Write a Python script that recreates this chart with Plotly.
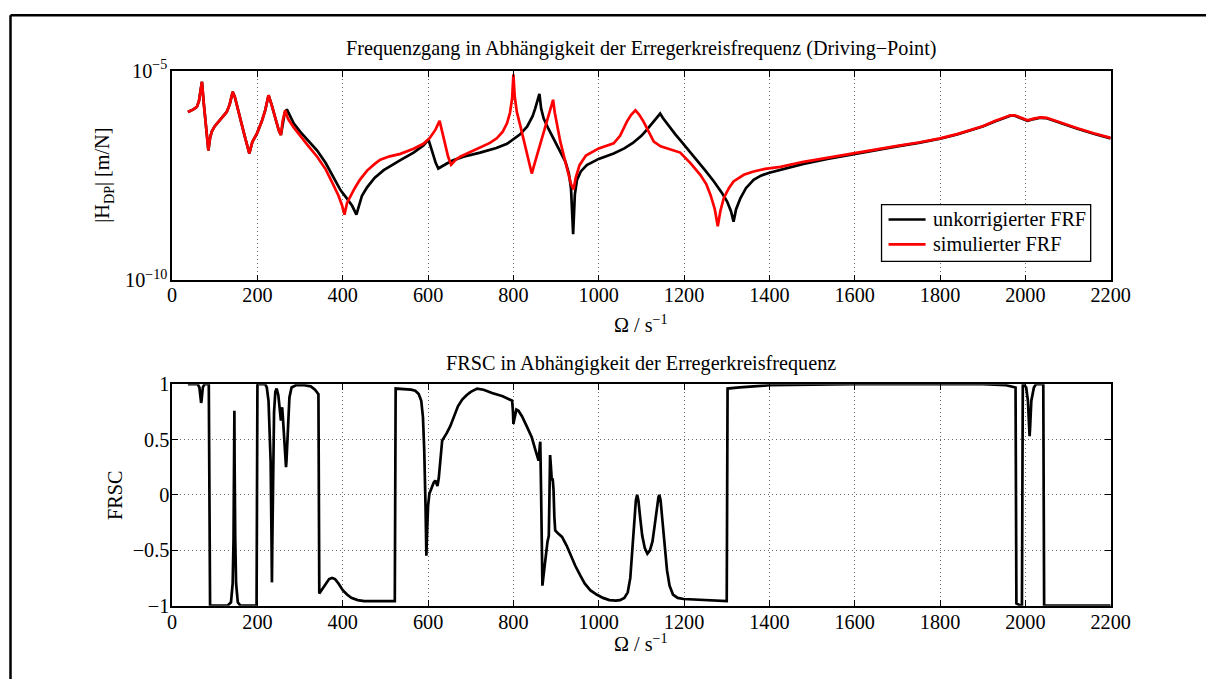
import plotly.graph_objects as go

# ---- Frequenzgang (Driving-Point), |H_DP| read as decade exponents log10(m/N) ----
omega_unkorr = [37, 50, 58, 63, 67, 70, 74, 79, 85, 89, 93, 100, 109, 118, 128, 135, 142, 147,
                153, 160, 170, 181, 188, 199, 210, 218, 226, 233, 242, 250, 255, 260, 264, 269,
                276, 285, 300, 320, 340, 360, 378, 395, 410, 422, 432, 438, 445, 457, 475, 496,
                515, 535, 566, 589, 601, 606, 612, 618, 624, 635, 644, 660, 683, 722, 760, 785,
                800, 815, 832, 845, 851, 856, 861, 865, 871, 882, 894, 908, 922, 930, 935, 940,
                944, 949, 958, 972, 1000, 1035, 1060, 1080, 1100, 1113, 1125, 1135, 1144, 1150,
                1158, 1168, 1180, 1191, 1210, 1230, 1250, 1270, 1288, 1301, 1310, 1316, 1322,
                1332, 1345, 1363, 1380, 1400, 1426, 1480, 1536, 1600, 1650, 1700, 1750, 1800,
                1840, 1870, 1900, 1930, 1950, 1965, 1975, 1990, 2005, 2020, 2035, 2050, 2070,
                2095, 2122, 2160, 2200]
H_unkorr_exp = [-5.98, -5.92, -5.86, -5.72, -5.45, -5.26, -5.75, -6.35, -6.90, -6.60, -6.45, -6.32,
                -6.21, -6.10, -5.98, -5.80, -5.50, -5.62, -5.88, -6.14, -6.55, -6.97, -6.70, -6.49,
                -6.21, -5.95, -5.58, -5.80, -6.14, -6.42, -6.53, -6.25, -6.00, -5.92,
                -6.08, -6.25, -6.45, -6.68, -6.90, -7.20, -7.55, -7.85, -8.05, -8.22, -8.43, -8.20,
                -7.98, -7.78, -7.55, -7.37, -7.25, -7.13, -6.95, -6.78, -6.64, -6.80, -7.00, -7.20,
                -7.33, -7.26, -7.21, -7.13, -7.05, -6.95, -6.84, -6.74, -6.64, -6.52, -6.33, -6.08,
                -5.90, -5.72, -5.55, -5.90, -6.14, -6.38, -6.61, -6.88, -7.17, -7.45, -7.80, -8.90,
                -7.95, -7.60, -7.40, -7.25, -7.10, -6.97, -6.85, -6.72, -6.55, -6.40, -6.25, -6.13,
                -6.02, -6.12, -6.23, -6.36, -6.52, -6.65, -6.88, -7.12, -7.38, -7.64, -7.90, -8.12,
                -8.35, -8.60, -8.30, -8.04, -7.80, -7.60, -7.50, -7.43, -7.36, -7.22, -7.10, -6.98,
                -6.89, -6.80, -6.72, -6.62, -6.52, -6.43, -6.33, -6.20, -6.12, -6.07, -6.07, -6.13,
                -6.19, -6.15, -6.12, -6.13, -6.20, -6.30, -6.38, -6.50, -6.61]

omega_sim = [37, 50, 58, 63, 67, 70, 74, 79, 85, 89, 93, 100, 109, 118, 128, 135, 142, 147,
             153, 160, 170, 181, 188, 199, 210, 218, 226, 233, 242, 250, 255, 259, 265, 272,
             285, 300, 320, 340, 360, 378, 390, 398, 404, 410, 418, 428, 440, 457, 475, 488,
             510, 535, 566, 589, 604, 612, 617, 622, 627, 633, 640, 647, 654, 665, 675, 700,
             722, 745, 761, 775, 785, 792, 797, 800, 803, 808, 816, 824, 833, 843, 850, 860,
             870, 878, 886, 893, 897, 903, 910, 920, 929, 935, 941, 946, 955, 970, 1000, 1035,
             1050, 1066, 1076, 1086, 1095, 1105, 1117, 1129, 1145, 1160, 1175, 1191, 1215, 1238,
             1252, 1262, 1272, 1279, 1285, 1293, 1305, 1316, 1340, 1363, 1390, 1426, 1480, 1536,
             1600, 1650, 1700, 1750, 1800, 1840, 1870, 1900, 1930, 1950, 1965, 1975, 1990, 2005,
             2020, 2035, 2050, 2070, 2095, 2122, 2160, 2200]
H_sim_exp = [-5.98, -5.92, -5.86, -5.72, -5.45, -5.26, -5.75, -6.35, -6.90, -6.60, -6.45, -6.32,
             -6.21, -6.10, -5.98, -5.80, -5.50, -5.62, -5.88, -6.14, -6.55, -6.97, -6.70, -6.49,
             -6.21, -5.95, -5.58, -5.80, -6.14, -6.42, -6.53, -6.20, -5.94, -6.15,
             -6.35, -6.55, -6.80, -7.05, -7.35, -7.72, -7.98, -8.20, -8.43, -8.15, -7.98, -7.80,
             -7.60, -7.38, -7.22, -7.12, -7.04, -6.98, -6.86, -6.74, -6.60, -6.50, -6.41, -6.30,
             -6.19, -6.45, -6.77, -7.05, -7.24, -7.12, -7.05, -6.93, -6.83, -6.72, -6.61, -6.45,
             -6.25, -6.00, -5.66, -5.08, -5.60, -5.98, -6.30, -6.65, -7.00, -7.45, -7.20, -6.85,
             -6.52, -6.25, -5.95, -5.69, -6.00, -6.35, -6.69, -7.10, -7.48, -7.70, -7.83, -7.55,
             -7.25, -7.02, -6.85, -6.73, -6.55, -6.21, -6.05, -5.94, -6.05, -6.21, -6.45, -6.69,
             -6.80, -6.85, -6.90, -6.95, -7.20, -7.48, -7.70, -7.96, -8.30, -8.71, -8.35, -8.04,
             -7.80, -7.64, -7.48, -7.40, -7.34, -7.29, -7.17, -7.07, -6.96, -6.88, -6.79, -6.71,
             -6.61, -6.51, -6.42, -6.32, -6.19, -6.11, -6.06, -6.06, -6.12, -6.18, -6.14, -6.11,
             -6.12, -6.19, -6.29, -6.37, -6.49, -6.60]

# ---- FRSC ----
omega_frsc = [37, 60, 64, 67, 68, 69, 72, 76, 86, 89, 130, 138, 142, 144, 145.5, 146, 146.5,
              148, 150, 154, 160, 198, 200, 218, 222, 226, 229, 231, 233, 234, 235, 237, 239,
              242, 245, 249, 253, 255, 257, 258, 260, 263, 266, 267, 268, 271, 275, 280, 290,
              310, 325, 335, 343, 345, 352, 360, 368, 375, 382, 390, 400, 410, 420, 435, 450,
              522, 524, 560, 570, 578, 584, 588, 591, 594, 596, 598, 600, 603, 608, 613, 617,
              620, 622, 625, 628, 633, 644, 652, 660, 670, 680, 690, 700, 715, 730, 750, 775,
              797, 799, 800, 803, 807, 812, 820, 830, 843, 852, 859, 862, 863, 865, 867, 868,
              870, 875, 880, 883, 885, 886, 888, 890, 892, 894, 896, 898, 905, 914, 925, 935,
              945, 957, 967, 980, 995, 1010, 1025, 1040, 1050, 1060, 1068, 1074, 1079, 1083,
              1087, 1090, 1093, 1097, 1102, 1108, 1114, 1120, 1126, 1131, 1136, 1140, 1142,
              1145, 1149, 1154, 1160, 1166, 1174, 1185, 1199, 1300, 1302, 1330, 1360, 1400,
              1500, 1600, 1900, 1934, 1955, 1977, 1979, 1989, 1992, 1994, 1996, 2002, 2006,
              2009, 2010, 2011, 2014, 2020, 2025, 2042, 2044, 2200]
frsc = [1.0, 1.0, 0.97, 0.85, 0.83, 0.85, 0.97, 1.0, 1.0, -1.0, -1.0, -0.97, -0.8, -0.4, 0.3,
        0.76, 0.3, -0.4, -0.8, -0.97, -1.0, -1.0, 1.0, 1.0, 0.97, 0.85, 0.6, 0.3, -0.4, -0.79,
        -0.4, 0.3, 0.75, 0.93, 0.96, 0.9, 0.7, 0.67, 0.78, 0.79, 0.68, 0.45, 0.27, 0.25, 0.3,
        0.6, 0.88, 0.97, 0.99, 0.99, 0.98, 0.95, 0.91, -0.89, -0.85, -0.8, -0.76, -0.75, -0.76,
        -0.8, -0.86, -0.9, -0.93, -0.95, -0.96, -0.96, 0.96, 0.95, 0.94, 0.91, 0.85, 0.7, 0.4,
        -0.1, -0.55, -0.3, -0.1, 0.01, 0.07, 0.11, 0.13, 0.1, 0.08, 0.15, 0.3, 0.49, 0.56,
        0.62, 0.7, 0.8, 0.86, 0.9, 0.93, 0.96, 0.95, 0.92, 0.89, 0.85, 0.75, 0.64, 0.7, 0.77,
        0.76, 0.71, 0.63, 0.52, 0.4, 0.31, 0.45, 0.48, 0.0, -0.6, -0.82, -0.75, -0.55, -0.42,
        -0.37, 0.0, 0.36, 0.25, 0.13, 0.15, 0.05, -0.2, -0.32, -0.35, -0.38, -0.46, -0.55,
        -0.64, -0.73, -0.8, -0.86, -0.9, -0.93, -0.95, -0.955, -0.95, -0.93, -0.88, -0.75,
        -0.5, -0.25, -0.05, 0.0, -0.05, -0.2, -0.37, -0.48, -0.53, -0.5, -0.42, -0.28, -0.12,
        -0.02, 0.0, -0.05, -0.22, -0.45, -0.68, -0.82, -0.9, -0.93, -0.94, -0.96, 0.96, 0.97,
        0.98, 0.99, 0.995, 1.0, 1.0, 0.995, 0.99, 0.97, -0.98, -1.0, -1.0, 1.0, 1.0, 0.97,
        0.85, 0.6, 0.53, 0.6, 0.85, 0.97, 1.0, 1.0, -1.0, -1.0]

series_names = ["unkorrigierter FRF", "simulierter FRF"]
series_colors = ["black", "#ff0000"]

x_ticks = list(range(0, 2201, 200))
frsc_ticks = [-1, -0.5, 0, 0.5, 1]
frsc_ticktext = ["\u22121", "\u22120.5", "0", "0.5", "1"]
H_ticks = [1e-10, 1e-5]
H_ticktext = ["10<sup>\u221210</sup>", "10<sup>\u22125</sup>"]

W, H = 1226, 690
FONT = "Liberation Serif"
FS = 20.2
LW = 2.7

# placement of the figure inside the browser page (scale and offset per axis)
PAGE_SX, PAGE_OX = 0.979, 5.0
PAGE_SY, PAGE_OY = 0.966, 12.0


def px_x(p):
    return (p - PAGE_OX) / PAGE_SX / W


def px_y(p):
    return 1 - (p - PAGE_OY) / PAGE_SY / H


fig = go.Figure()
fig.add_trace(go.Scatter(x=omega_unkorr, y=[10.0 ** e for e in H_unkorr_exp], mode="lines",
                         name=series_names[0], line=dict(color=series_colors[0], width=LW),
                         xaxis="x", yaxis="y", showlegend=False))
fig.add_trace(go.Scatter(x=omega_sim, y=[10.0 ** e for e in H_sim_exp], mode="lines",
                         name=series_names[1], line=dict(color=series_colors[1], width=LW),
                         xaxis="x", yaxis="y", showlegend=False))
fig.add_trace(go.Scatter(x=omega_frsc, y=frsc, mode="lines", name="FRSC", showlegend=False,
                         line=dict(color="black", width=LW), xaxis="x2", yaxis="y2"))

axis_common = dict(showline=True, linecolor="black", linewidth=1.5, mirror="allticks",
                   ticks="inside", ticklen=6, tickcolor="black", zeroline=False,
                   tickfont=dict(family=FONT, size=FS, color="black"))
grid = dict(showgrid=True, gridcolor="rgba(0,0,0,0.6)", gridwidth=1, griddash="1px,3px")

x_dom = [px_x(172), px_x(1110)]
fig.update_layout(
    width=W, height=H, margin=dict(l=0, r=0, t=0, b=0),
    paper_bgcolor="white", plot_bgcolor="white",
    font=dict(family=FONT, size=FS, color="black"),
    xaxis=dict(domain=x_dom, anchor="y", range=[0, 2200], tickvals=x_ticks,
               ticklabelstandoff=-4, **axis_common, **grid),
    yaxis=dict(domain=[px_y(279), px_y(69)], anchor="x", type="log", range=[-10, -5],
               tickvals=H_ticks, ticktext=H_ticktext, showgrid=False,
               ticklabelstandoff=-1, **axis_common),
    xaxis2=dict(domain=x_dom, anchor="y2", range=[0, 2200], tickvals=x_ticks,
                ticklabelstandoff=-3, **axis_common, **grid),
    yaxis2=dict(domain=[px_y(605), px_y(383)], anchor="x2", range=[-1, 1],
                tickvals=frsc_ticks, ticktext=frsc_ticktext,
                ticklabelstandoff=-3, **axis_common, **grid),
    showlegend=False,
)

annotations = [
    ("Frequenzgang in Abhängigkeit der Erregerkreisfrequenz (Driving\u2212Point)", 641, 47, 0, "center"),
    ("FRSC in Abhängigkeit der Erregerkreisfrequenz", 641, 362, 0, "center"),
    ("\u03a9 / s<sup>\u22121</sup>", 641, 322, 0, "center"),
    ("\u03a9 / s<sup>\u22121</sup>", 641, 642, 0, "center"),
    ("|H<sub>DP</sub>| [m/N]", 104, 174, -90, "center"),
    ("FRSC", 115, 495, -90, "center"),
]

shapes = []

# legend box of the upper panel
leg_x0, leg_x1, leg_y0, leg_y1 = 881, 1090, 203, 260
leg_rows = [218, 243]
shapes.append(dict(type="rect", xref="paper", yref="paper", layer="above",
                   x0=px_x(leg_x0), x1=px_x(leg_x1), y0=px_y(leg_y1), y1=px_y(leg_y0),
                   fillcolor="white", line=dict(color="black", width=1.3)))
for name, color, row in zip(series_names, series_colors, leg_rows):
    shapes.append(dict(type="line", xref="paper", yref="paper", layer="above",
                       x0=px_x(888), x1=px_x(925), y0=px_y(row), y1=px_y(row),
                       line=dict(color=color, width=LW)))
    annotations.append((name, 930, row, 0, "left"))

# outer frame (left and top edges)
shapes.append(dict(type="line", xref="paper", yref="paper", x0=px_x(10.5), x1=px_x(10.5),
                   y0=0, y1=1 - 1.2 / H, line=dict(color="black", width=2.5)))
shapes.append(dict(type="line", xref="paper", yref="paper", x0=px_x(10.5), x1=1,
                   y0=1 - 1.2 / H, y1=1 - 1.2 / H, line=dict(color="black", width=2.5)))

fig.update_layout(
    shapes=shapes,
    annotations=[
        dict(text=t, x=px_x(x), y=px_y(y), xref="paper", yref="paper", showarrow=False,
             xanchor=anc, yanchor="middle", textangle=a,
             font=dict(family=FONT, size=FS, color="black"))
        for t, x, y, a, anc in annotations
    ],
)

fig.write_html("out.html")
